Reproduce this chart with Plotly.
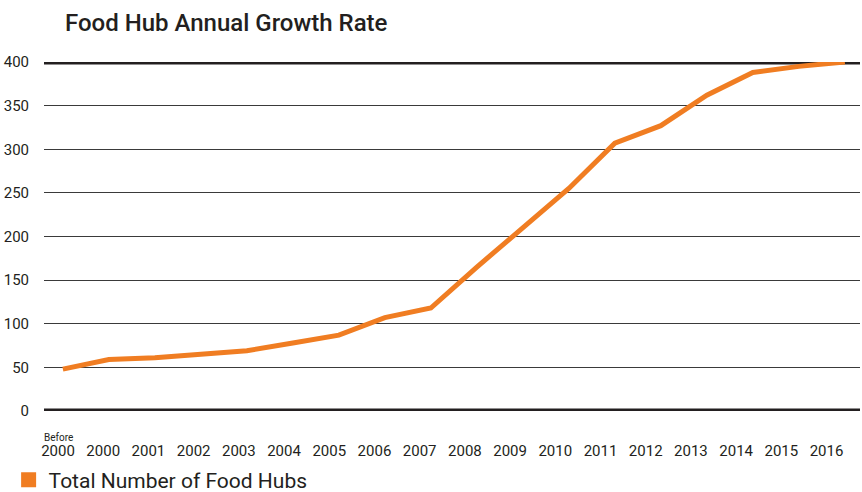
import plotly.graph_objects as go

categories = ["Before 2000", "2000", "2001", "2002", "2003", "2004", "2005", "2006", "2007",
              "2008", "2009", "2010", "2011", "2012", "2013", "2014", "2015", "2016"]
tick_labels = ["2000", "2000", "2001", "2002", "2003", "2004", "2005", "2006", "2007",
               "2008", "2009", "2010", "2011", "2012", "2013", "2014", "2015", "2016"]
food_hubs = [48, 59, 61, 65, 69, 78, 87, 107, 118, 165, 210, 255, 307, 327, 362, 388, 395, 400]
y_ticks = [0, 50, 100, 150, 200, 250, 300, 350, 400]

FONT = "Roboto, Liberation Sans, sans-serif"
ORANGE = "#F07D22"
INK = "#231F20"

idx = list(range(len(categories)))

fig = go.Figure()
fig.add_trace(go.Scatter(
    x=idx, y=food_hubs, mode="lines",
    line=dict(color=ORANGE, width=5),
    showlegend=False, name="Total Number of Food Hubs",
))
fig.add_trace(go.Scatter(
    x=[None], y=[None], mode="markers", xaxis="x2",
    marker=dict(symbol="square", color=ORANGE, size=15),
    name="Total Number of Food Hubs", showlegend=True,
))

for yv in (0, 400):
    fig.add_shape(type="line", xref="paper", yref="y", x0=0, x1=1, y0=yv, y1=yv,
                  line=dict(color=INK, width=5), layer="below")

fig.add_annotation(x=0, y=0, xref="x2", yref="paper", text="Before",
                   showarrow=False, yshift=-19, font=dict(family=FONT, size=10, color=INK),
                   xanchor="center", yanchor="top")

fig.update_layout(
    width=862, height=492,
    margin=dict(l=44, r=2, t=62, b=81, autoexpand=False),
    paper_bgcolor="white", plot_bgcolor="white",
    title=dict(text="Food Hub Annual Growth Rate", x=65/862, xref="container", xanchor="left",
               y=1 - 23/492, yref="container", yanchor="middle",
               font=dict(family=FONT, size=24, color=INK, weight=500)),
    xaxis=dict(
        range=[-0.41, 17.33], showticklabels=False,
        showgrid=False, zeroline=False, showline=False, ticks="",
    ),
    xaxis2=dict(
        overlaying="x", side="bottom",
        range=[-0.31, 17.74], tickmode="array", tickvals=idx, ticktext=tick_labels,
        showgrid=False, zeroline=False, showline=False, ticks="",
        ticklabelstandoff=29, automargin=False,
        tickfont=dict(family=FONT, size=15, color=INK),
    ),
    yaxis=dict(
        range=[0, 400], tickmode="array", tickvals=y_ticks,
        showgrid=True, gridcolor="#3A3A3A", gridwidth=1.2,
        zeroline=False, showline=False, ticks="",
        ticklabelstandoff=14, automargin=False,
        tickfont=dict(family=FONT, size=15, color=INK),
    ),
    legend=dict(orientation="h", xref="container", yref="container",
                x=0.01, y=1 - 480/492, xanchor="left", yanchor="middle",
                font=dict(family=FONT, size=21, color=INK),
                itemwidth=30, bgcolor="rgba(0,0,0,0)"),
)

fig.write_html("out.html")
